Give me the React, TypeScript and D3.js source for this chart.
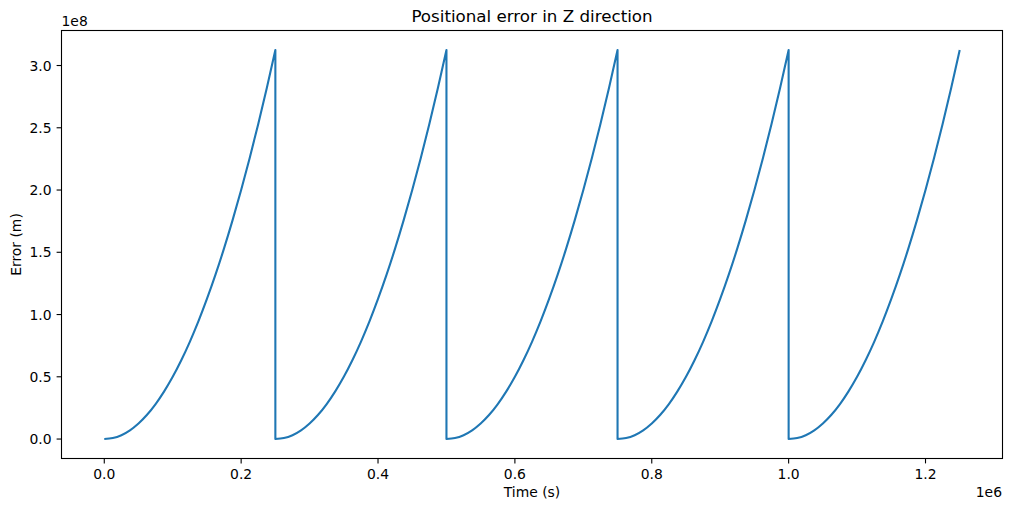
import React from "react";
import * as d3 from "d3";

// Start time (s) of each sawtooth segment
const segmentStarts = [0, 250000, 500000, 750000, 1000000];
// Time into a segment (s) at which values were read
const segmentOffsets = [
  0, 12500, 25000, 37500, 50000, 62500, 75000, 87500, 100000, 112500, 125000,
  137500, 150000, 162500, 175000, 187500, 200000, 212500, 225000, 237500, 250000,
];
// Error (in units of 1e8 m) at each offset, same in every segment
const segmentValues = [
  0, 0.008, 0.031, 0.07, 0.125, 0.195, 0.281, 0.383, 0.5, 0.633, 0.781,
  0.945, 1.125, 1.32, 1.531, 1.758, 2.0, 2.258, 2.531, 2.82, 3.125,
];

const xTicks = [0, 0.2, 0.4, 0.6, 0.8, 1.0, 1.2];
const yTicks = [0, 0.5, 1.0, 1.5, 2.0, 2.5, 3.0];

const W = 1011;
const H = 511;
const left = 61.5;
const right = 1002.5;
const top = 30.5;
const bottom = 458.5;
const FONT = "DejaVu Sans, sans-serif";
const COLOR = "#1f77b4";

export default function App() {
  const x = d3.scaleLinear().domain([-0.0625, 1.3125]).range([left, right]);
  const y = d3.scaleLinear().domain([-0.15625, 3.28125]).range([bottom, top]);

  const line = d3
    .line<[number, number]>()
    .x((d) => x(d[0]))
    .y((d) => y(d[1]))
    .curve(d3.curveCatmullRom);

  let pathD = "";
  segmentStarts.forEach((s, i) => {
    const pts: [number, number][] = segmentOffsets.map((o, j) => [(s + o) / 1e6, segmentValues[j]]);
    let seg = line(pts) || "";
    if (i > 0) seg = "L" + seg.slice(1);
    pathD += seg;
  });

  const fs = 13.9;
  return (
    <svg width={W} height={H} style={{ position: "absolute", left: 0, top: 0 }}>
      <rect x={0} y={0} width={W} height={H} fill="white" />
      <clipPath id="clip">
        <rect x={left} y={top} width={right - left} height={bottom - top} />
      </clipPath>
      <path d={pathD} fill="none" stroke={COLOR} strokeWidth={2.1} strokeLinejoin="round" clipPath="url(#clip)" />
      {/* spines */}
      <rect x={left} y={top} width={right - left} height={bottom - top} fill="none" stroke="black" strokeWidth={1.1} />
      {/* x ticks */}
      {xTicks.map((t) => (
        <g key={"x" + t}>
          <line x1={x(t)} x2={x(t)} y1={bottom} y2={bottom + 4.9} stroke="black" strokeWidth={1.1} />
          <text x={x(t)} y={478.5} textAnchor="middle" fontFamily={FONT} fontSize={fs} fill="black">
            {t.toFixed(1)}
          </text>
        </g>
      ))}
      {/* y ticks */}
      {yTicks.map((t) => (
        <g key={"y" + t}>
          <line x1={left - 4.9} x2={left} y1={y(t)} y2={y(t)} stroke="black" strokeWidth={1.1} />
          <text x={51.5} y={y(t) + 5} textAnchor="end" fontFamily={FONT} fontSize={fs} fill="black">
            {t.toFixed(1)}
          </text>
        </g>
      ))}
      <text x={61.5} y={25.5} fontFamily={FONT} fontSize={fs} fill="black">1e8</text>
      <text x={1002} y={497} textAnchor="end" fontFamily={FONT} fontSize={fs} fill="black">1e6</text>
      <text x={(left + right) / 2} y={497} textAnchor="middle" fontFamily={FONT} fontSize={fs} fill="black">
        Time (s)
      </text>
      <text
        transform={`translate(20.5, ${(top + bottom) / 2}) rotate(-90)`}
        textAnchor="middle"
        fontFamily={FONT}
        fontSize={fs}
        fill="black"
      >
        Error (m)
      </text>
      <text x={(left + right) / 2} y={22} textAnchor="middle" fontFamily={FONT} fontSize={16.7} fill="black">
        Positional error in Z direction
      </text>
    </svg>
  );
}
